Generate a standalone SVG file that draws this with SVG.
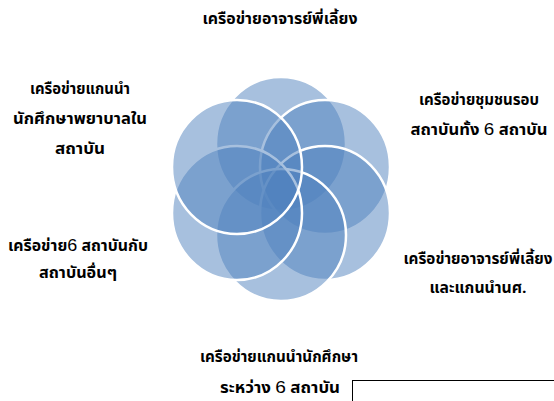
<svg xmlns="http://www.w3.org/2000/svg" width="554" height="401" viewBox="0 0 554 401">
<style>
.c{fill:#4f81bd;fill-opacity:0.5;stroke:#ffffff;stroke-width:2.5}
.t{font-family:"Noto Sans Thai","Tahoma","Liberation Sans",sans-serif;font-size:15px;font-weight:bold;fill:#000;text-anchor:middle}
.n{font-family:"Liberation Sans",Arial,sans-serif;font-size:17px;font-weight:normal}
</style>
<rect width="554" height="401" fill="#fff"/>
<g id="petals">
<g id="n1"><ellipse class="c" cx="281" cy="144" rx="65" ry="67"/></g>
<g id="n2"><ellipse class="c" cx="325" cy="167" rx="65" ry="67"/></g>
<g id="n3"><ellipse class="c" cx="325" cy="213" rx="65" ry="67"/></g>
<g id="n4"><ellipse class="c" cx="281" cy="235" rx="65" ry="66"/></g>
<g id="n5"><ellipse class="c" cx="237" cy="213" rx="65" ry="67"/></g>
<g id="n6"><ellipse class="c" cx="237" cy="167" rx="65" ry="67"/></g>
</g>
<g id="labels">
<g id="l1"><text class="t" x="280" y="24" textLength="155" lengthAdjust="spacingAndGlyphs">เครือข่ายอาจารย์พี่เลี้ยง</text></g>
<g id="l2"><text class="t" x="80" y="94" textLength="100" lengthAdjust="spacingAndGlyphs">เครือข่ายแกนนำ</text>
<text class="t" x="80" y="124" textLength="134" lengthAdjust="spacingAndGlyphs">นักศึกษาพยาบาลใน</text>
<text class="t" x="80" y="154" textLength="50" lengthAdjust="spacingAndGlyphs">สถาบัน</text></g>
<g id="l3"><text class="t" x="479" y="105" textLength="120" lengthAdjust="spacingAndGlyphs">เครือข่ายชุมชนรอบ</text>
<text class="t" x="479" y="135" textLength="137" lengthAdjust="spacingAndGlyphs">สถาบันทั้ง <tspan class="n">6</tspan> สถาบัน</text></g>
<g id="l4"><text class="t" x="78" y="251" textLength="140" lengthAdjust="spacingAndGlyphs">เครือข่าย<tspan class="n">6</tspan> สถาบันกับ</text>
<text class="t" x="78" y="278" textLength="78" lengthAdjust="spacingAndGlyphs">สถาบันอื่นๆ</text></g>
<g id="l5"><text class="t" x="478" y="264" textLength="149" lengthAdjust="spacingAndGlyphs">เครือข่ายอาจารย์พี่เลี้ยง</text>
<text class="t" x="478" y="293" textLength="97" lengthAdjust="spacingAndGlyphs">และแกนนำนศ.</text></g>
<g id="l6"><text class="t" x="279" y="362" textLength="158" lengthAdjust="spacingAndGlyphs">เครือข่ายแกนนำนักศึกษา</text>
<text class="t" x="280" y="393" textLength="120" lengthAdjust="spacingAndGlyphs">ระหว่าง <tspan class="n">6</tspan> สถาบัน</text></g>
</g>
<g id="frame"><rect x="352.5" y="380.5" width="210" height="40" fill="none" stroke="#000" stroke-width="1"/></g>
</svg>
